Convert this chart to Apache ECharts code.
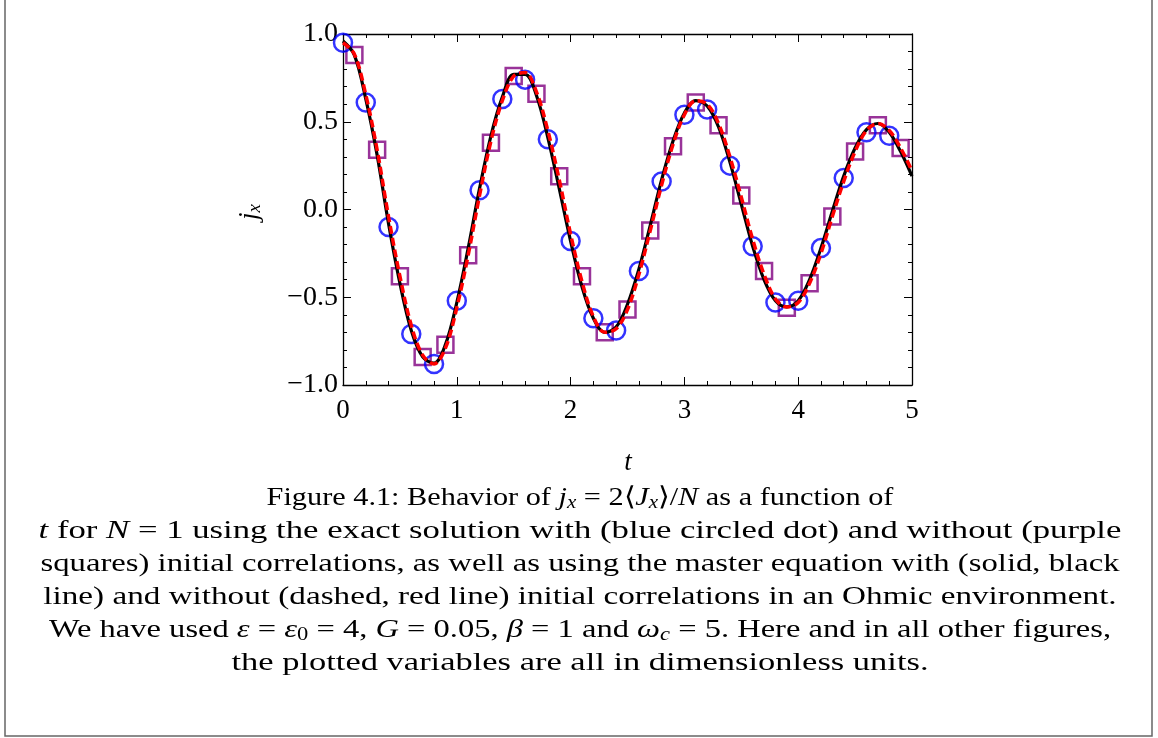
<!DOCTYPE html>
<html>
<head>
<meta charset="utf-8">
<script src="https://cdn.jsdelivr.net/npm/echarts@6/dist/echarts.min.js"></script>
<style>
html,body{margin:0;padding:0;background:#fff;}
#chart{width:1158px;height:738px;}
</style>
</head>
<body>
<div id="chart"></div>
<script>
// ---- data ----
const xTicks = [0, 1, 2, 3, 4, 5];
const yTicks = [-1.0, -0.5, 0.0, 0.5, 1.0];

// exact solution with initial correlations (blue circles)
const tCircle = [0, 0.2, 0.4, 0.6, 0.8, 1.0, 1.2, 1.4, 1.6, 1.8, 2.0, 2.2, 2.4, 2.6, 2.8, 3.0, 3.2, 3.4, 3.6, 3.8, 4.0, 4.2, 4.4, 4.6, 4.8];
const jCircle = [0.95, 0.61, -0.10, -0.71, -0.88, -0.52, 0.11, 0.63, 0.74, 0.40, -0.18, -0.62, -0.69, -0.35, 0.16, 0.54, 0.57, 0.25, -0.21, -0.53, -0.52, -0.22, 0.18, 0.44, 0.42];

// exact solution without initial correlations (purple squares)
const tSquare = [0.1, 0.3, 0.5, 0.7, 0.9, 1.1, 1.3, 1.5, 1.7, 1.9, 2.1, 2.3, 2.5, 2.7, 2.9, 3.1, 3.3, 3.5, 3.7, 3.9, 4.1, 4.3, 4.5, 4.7, 4.9];
const jSquare = [0.88, 0.34, -0.38, -0.84, -0.77, -0.26, 0.38, 0.76, 0.66, 0.19, -0.38, -0.70, -0.57, -0.12, 0.36, 0.61, 0.48, 0.08, -0.35, -0.56, -0.42, -0.04, 0.33, 0.48, 0.35];

// master equation curves
const tLine = [0, 0.1, 0.2, 0.3, 0.4, 0.5, 0.6, 0.7, 0.8, 0.9, 1.0, 1.1, 1.2, 1.3, 1.4, 1.5, 1.6, 1.7, 1.8, 1.9, 2.0, 2.1, 2.2, 2.3, 2.4, 2.5, 2.6, 2.7, 2.8, 2.9, 3.0, 3.1, 3.2, 3.3, 3.4, 3.5, 3.6, 3.7, 3.8, 3.9, 4.0, 4.1, 4.2, 4.3, 4.4, 4.5, 4.6, 4.7, 4.8, 4.9, 5.0];
// with initial correlations (solid black)
const jBlack = [0.96, 0.88, 0.63, 0.31, -0.08, -0.42, -0.69, -0.84, -0.875, -0.77, -0.53, -0.22, 0.12, 0.42, 0.64, 0.77, 0.77, 0.65, 0.41, 0.12, -0.18, -0.44, -0.62, -0.70, -0.67, -0.54, -0.34, -0.09, 0.17, 0.39, 0.55, 0.62, 0.59, 0.47, 0.27, 0.03, -0.21, -0.40, -0.52, -0.555, -0.52, -0.40, -0.22, -0.01, 0.19, 0.35, 0.455, 0.49, 0.44, 0.33, 0.19];
// without initial correlations (dashed red)
const jRed = [0.95, 0.885, 0.655, 0.34, -0.04, -0.38, -0.66, -0.83, -0.88, -0.79, -0.56, -0.26, 0.08, 0.39, 0.62, 0.76, 0.78, 0.67, 0.45, 0.17, -0.14, -0.41, -0.61, -0.70, -0.68, -0.57, -0.37, -0.12, 0.14, 0.37, 0.54, 0.62, 0.60, 0.49, 0.30, 0.07, -0.17, -0.37, -0.51, -0.555, -0.53, -0.42, -0.25, -0.04, 0.16, 0.33, 0.45, 0.49, 0.45, 0.35, 0.22];

const zip = (a, b) => a.map((v, i) => [v, b[i]]);

const SERIF = '"Liberation Serif", "Times New Roman", serif';
const fmtY = v => {
  const s = Math.abs(v).toFixed(1);
  return v < -1e-9 ? '\u2212' + s : s;
};

const chart = echarts.init(document.getElementById('chart'), null, {renderer: 'canvas'});

const axisLine = {show: true, onZero: false, lineStyle: {color: '#000', width: 1.3}};
const tick = {show: true, inside: true, length: 8, lineStyle: {color: '#000', width: 1}};
const minor = {show: true, splitNumber: 5, length: 4, lineStyle: {color: '#000', width: 1}};

const it = {fontFamily: SERIF, fontStyle: 'italic', fontSize: 26, color: '#000'};
const rm = {fontFamily: SERIF, fontSize: 26, color: '#000'};
const sub = {fontFamily: SERIF, fontStyle: 'italic', fontSize: 18, color: '#000', padding: [10, 0, 0, 0]};
const subR = {fontFamily: SERIF, fontSize: 18, color: '#000', padding: [10, 0, 0, 0]};
const richCap = {it: it, rm: rm, sub: sub, subR: subR};

const capX = 580;
const capLines = [
  {y: 498, sx: 1.165, text: '{rm|Figure 4.1: Behavior of }{it|j}{sub|x}{rm| = 2\u27e8}{it|J}{sub|x}{rm|\u27e9/}{it|N}{rm| as a function of}'},
  {y: 531, sx: 1.335, text: '{it|t}{rm| for }{it|N}{rm| = 1 using the exact solution with (blue circled dot) and without (purple}'},
  {y: 564, sx: 1.258, text: '{rm|squares) initial correlations, as well as using the master equation with (solid, black}'},
  {y: 597, sx: 1.276, text: '{rm|line) and without (dashed, red line) initial correlations in an Ohmic environment.}'},
  {y: 630, sx: 1.251, text: '{rm|We have used }{it|\u03b5}{rm| = }{it|\u03b5}{subR|0}{rm| = 4, }{it|G}{rm| = 0.05, }{it|\u03b2}{rm| = 1 and }{it|\u03c9}{sub|c}{rm| = 5. Here and in all other figures,}'},
  {y: 663, sx: 1.326, text: '{rm|the plotted variables are all in dimensionless units.}'}
];

const graphics = [
  {type: 'rect', shape: {x: 5, y: -10, width: 1147, height: 746}, style: {fill: 'none', stroke: '#666', lineWidth: 1.5}, silent: true, z: 0},
  {type: 'text', x: 628, y: 463, style: {text: 't', font: 'italic 27px ' + SERIF, fill: '#000', textAlign: 'center', textVerticalAlign: 'middle'}},
  {type: 'text', x: 250, y: 212, rotation: Math.PI / 2,
   style: {text: '{it|j}{sub|x}', rich: {it: {fontFamily: SERIF, fontStyle: 'italic', fontSize: 27, color: '#000'}, sub: {fontFamily: SERIF, fontStyle: 'italic', fontSize: 19, color: '#000', padding: [10, 0, 0, 0]}}, textAlign: 'center', textVerticalAlign: 'middle'}}
];
capLines.forEach(l => {
  graphics.push({type: 'text', x: capX, y: l.y, scaleX: l.sx, scaleY: 1, style: {text: l.text, rich: richCap, textAlign: 'center', textVerticalAlign: 'middle'}});
});

const option = {
  backgroundColor: '#fff',
  animation: false,
  grid: {left: 343, right: 246, top: 34, bottom: 353, containLabel: false},
  xAxis: [
    {type: 'value', min: xTicks[0], max: xTicks[xTicks.length - 1], interval: 1, position: 'bottom',
     axisLine: axisLine, axisTick: tick, minorTick: minor, splitLine: {show: false},
     axisLabel: {margin: 12, color: '#000', fontFamily: SERIF, fontSize: 27, formatter: v => String(v)}},
    {type: 'value', min: xTicks[0], max: xTicks[xTicks.length - 1], interval: 1, position: 'top',
     axisLine: axisLine, axisTick: tick, minorTick: minor, splitLine: {show: false}, axisLabel: {show: false}}
  ],
  yAxis: [
    {type: 'value', min: yTicks[0], max: yTicks[yTicks.length - 1], interval: 0.5, position: 'left',
     axisLine: axisLine, axisTick: tick, minorTick: minor, splitLine: {show: false},
     axisLabel: {margin: 5, color: '#000', fontFamily: SERIF, fontSize: 28, formatter: fmtY}},
    {type: 'value', min: yTicks[0], max: yTicks[yTicks.length - 1], interval: 0.5, position: 'right',
     axisLine: axisLine, axisTick: tick, minorTick: minor, splitLine: {show: false}, axisLabel: {show: false}}
  ],
  series: [
    {name: 'exact, without correlations', type: 'scatter', data: zip(tSquare, jSquare), symbol: 'rect', symbolSize: 16,
     itemStyle: {color: 'rgba(0,0,0,0)', borderColor: '#800080', borderWidth: 2.5}, z: 2},
    {name: 'exact, with correlations', type: 'scatter', data: zip(tCircle, jCircle), symbol: 'circle', symbolSize: 18,
     itemStyle: {color: 'rgba(0,0,0,0)', borderColor: '#0000ff', borderWidth: 2.5}, z: 3},
    {name: 'master, with correlations', type: 'line', data: zip(tLine, jBlack), smooth: 0.35, showSymbol: false,
     lineStyle: {color: '#000', width: 3.2}, z: 4},
    {name: 'master, without correlations', type: 'line', data: zip(tLine, jRed), smooth: 0.35, showSymbol: false,
     lineStyle: {color: '#ff0000', width: 3.5, type: [8, 4]}, z: 5}
  ],
  graphic: graphics
};
chart.setOption(option);
</script>
</body>
</html>
